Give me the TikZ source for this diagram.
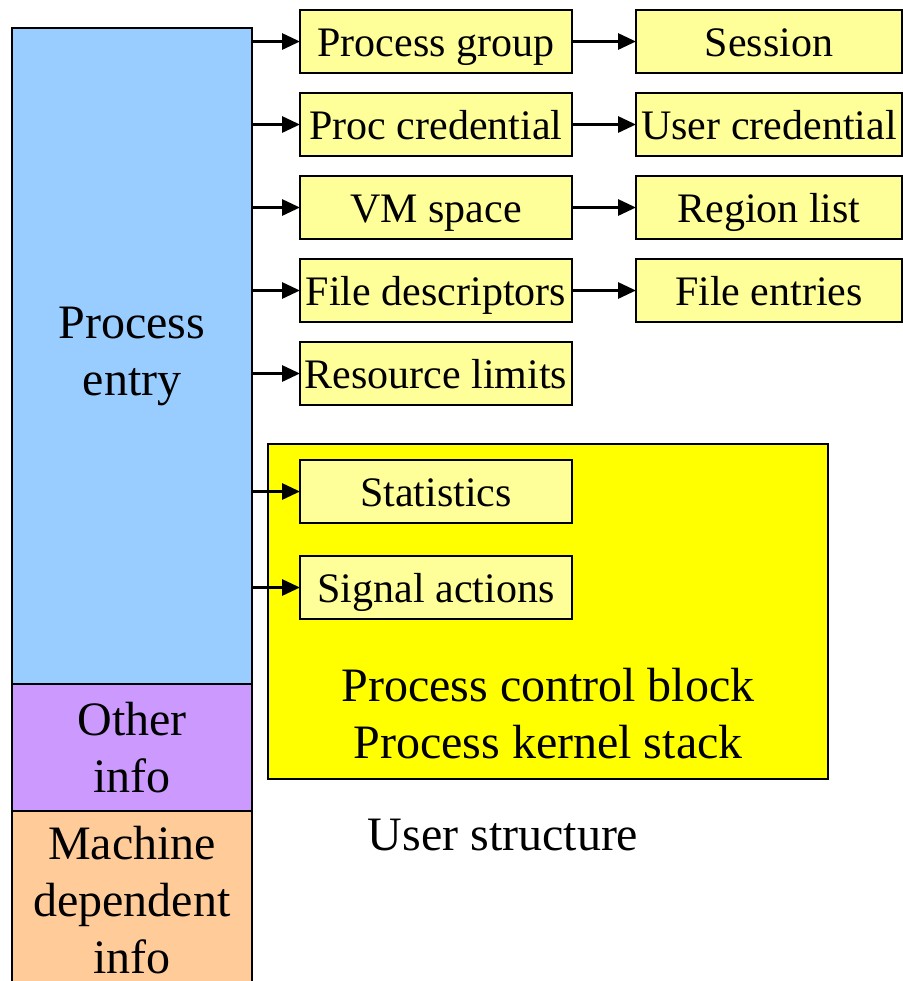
\documentclass[tikz,border=0pt]{standalone}
\usepackage{fontspec}
\setmainfont{Liberation Serif}
\usetikzlibrary{arrows.meta,positioning}

\definecolor{entryblue}{HTML}{99CCFF}
\definecolor{otherpurple}{HTML}{CC99FF}
\definecolor{machorange}{HTML}{FFCC99}
\definecolor{boxyellow}{HTML}{FFFF99}
\definecolor{pcbyellow}{HTML}{FFFF00}

\begin{document}
\begin{tikzpicture}[
    x=0.5pt, y=-0.5pt,
    node distance=10pt,
    part/.style={draw, line width=1pt, outer sep=0pt, minimum width=120pt, align=center,
      font=\fontsize{24}{28.5}\selectfont},
    box/.style={draw, line width=1pt, fill=boxyellow, outer sep=0pt, inner sep=1pt,
      text height=17pt, text depth=2pt,
      minimum width=136pt, minimum height=31.5pt, font=\fontsize{21}{25}\selectfont},
    wide/.style={box, minimum width=133pt},
    arrow/.style={-{Triangle[length=9pt, width=8pt]}, line width=1.5pt},
    label/.style={align=center, font=\fontsize{24}{28.5}\selectfont}
  ]
  \clip (0,0) rectangle (903,981);

  % Process table entry
  \node[part, fill=entryblue, minimum height=328pt] (entry) at (132,356) {Process\\entry};
  \node[part, fill=otherpurple, minimum height=63.5pt, below=0pt of entry] (other) {Other\\info};
  \node[part, fill=machorange, minimum height=89pt, below=0pt of other] (mach) {Machine\\dependent\\info};

  % Substructures
  \node[box] (pgrp) at (436,41.5) {Process group};
  \node[box, below=of pgrp] (pcred) {Proc credential};
  \node[box, below=of pcred] (vmsp) {VM space};
  \node[box, below=of vmsp] (fdesc) {File descriptors};
  \node[box, below=of fdesc] (rlim) {Resource limits};

  \node[wide, right=32pt of pgrp] (sess) {Session};
  \node[wide, right=32pt of pcred] (ucred) {User credential};
  \node[wide, right=32pt of vmsp] (rlist) {Region list};
  \node[wide, right=32pt of fdesc] (fent) {File entries};

  % User structure
  \node[draw, line width=1pt, fill=pcbyellow, minimum width=280pt, minimum height=167.5pt] (ustr) at (548,611.5) {};
  \node[box] (stat) at (436,491.5) {Statistics};
  \node[box, below=16.5pt of stat] (sig) {Signal actions};
  \node[label] (pcb) at (548,714) {Process control block\\Process kernel stack};
  \node[label] (ulbl) at (503,835) {User structure};

  % Arrows
  \foreach \n in {pgrp,pcred,vmsp,fdesc,rlim,stat,sig}
    \draw[arrow] (entry.east |- \n.west) -- (\n.west);
  \draw[arrow] (pgrp) -- (sess);
  \draw[arrow] (pcred) -- (ucred);
  \draw[arrow] (vmsp) -- (rlist);
  \draw[arrow] (fdesc) -- (fent);
\end{tikzpicture}
\end{document}
